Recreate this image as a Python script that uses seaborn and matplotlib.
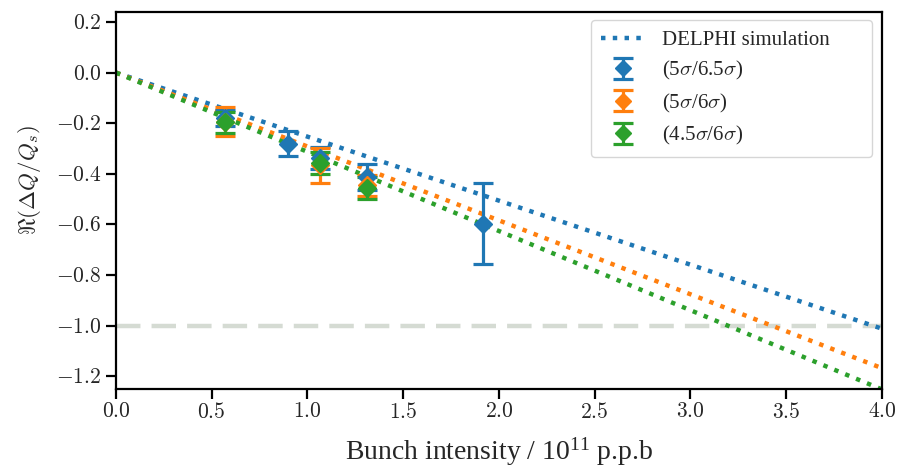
import numpy as np
import pandas as pd
import matplotlib
matplotlib.use("Agg")
import matplotlib.pyplot as plt
import matplotlib.ticker as mticker
import seaborn as sns

# ---- data ----
sim_intensity = [0.0, 4.0]
sim_blue = [0.0, -1.012]
sim_orange = [0.0, -1.168]
sim_green = [0.0, -1.252]

labels = [r"(5$\sigma$/6.5$\sigma$)", r"(5$\sigma$/6$\sigma$)", r"(4.5$\sigma$/6$\sigma$)"]

x_blue = [0.569, 0.90, 1.065, 1.309, 1.915]
y_blue = [-0.178, -0.281, -0.337, -0.412, -0.598]
e_blue = [0.032, 0.050, 0.043, 0.050, 0.160]

x_orange = [0.569, 1.065, 1.309]
y_orange = [-0.194, -0.366, -0.445]
e_orange = [0.058, 0.070, 0.042]

x_green = [0.569, 1.065, 1.309]
y_green = [-0.196, -0.357, -0.456]
e_green = [0.041, 0.043, 0.043]

threshold = -1.0

xlim = (0.0, 4.0)
ylim = (-1.25, 0.24)
xticks = [0.0, 0.5, 1.0, 1.5, 2.0, 2.5, 3.0, 3.5, 4.0]
yticks = [0.2, 0.0, -0.2, -0.4, -0.6, -0.8, -1.0, -1.2]

colors = ["#1f77b4", "#ff7f0e", "#2ca02c"]

# ---- style ----
sns.set_style("ticks")
plt.rcParams["font.family"] = ["Liberation Serif", "DejaVu Serif"]
plt.rcParams["mathtext.fontset"] = "cm"

fig = plt.figure(figsize=(8.99, 4.76), dpi=100)
ax = fig.add_axes([0.129, 0.183, 0.852, 0.792])

ax.axhline(threshold, color="#d5dbd3", lw=3.2, ls=(0, (5.5, 2.5)), zorder=1)

sim_df = pd.DataFrame({
    "x": sim_intensity * 3,
    "y": sim_blue + sim_orange + sim_green,
    "s": ["b"] * 2 + ["o"] * 2 + ["g"] * 2,
})
for key, c in zip(["b", "o", "g"], colors):
    sub = sim_df[sim_df.s == key]
    sns.lineplot(data=sub, x="x", y="y", ax=ax, color=c, lw=3.2, ls=":",
                 label="DELPHI simulation" if key == "b" else None,
                 legend=False, zorder=2)

for xs, ys, es, c, lab in zip([x_blue, x_orange, x_green],
                              [y_blue, y_orange, y_green],
                              [e_blue, e_orange, e_green], colors, labels):
    ax.errorbar(xs, ys, yerr=es, fmt="D", color=c, ms=9.5, lw=2.3,
                capsize=7, capthick=2.3, label=lab, zorder=3)

ax.set_xlim(*xlim)
ax.set_ylim(*ylim)
ax.set_xticks(xticks)
ax.set_yticks(yticks)
fmt = mticker.FuncFormatter(lambda v, p: f"${v:.1f}$")
ax.xaxis.set_major_formatter(fmt)
ax.yaxis.set_major_formatter(fmt)
ax.tick_params(labelsize=15.5, width=1.6, length=7, direction="out", color="black")
for sp in ax.spines.values():
    sp.set_linewidth(1.6)
    sp.set_color("black")

ax.set_xlabel(r"Bunch intensity / $\mathregular{10^{11}}$ p.p.b", fontsize=20, labelpad=9)
ax.set_ylabel(r"$\Re(\Delta Q/Q_s)$", fontsize=16.5)
ax.yaxis.set_label_coords(-0.095, 0.555)

h, l = ax.get_legend_handles_labels()
leg = ax.legend(h, l, loc="upper left", bbox_to_anchor=(0.620, 0.0, 0.367, 0.979),
                mode="expand", borderaxespad=0, fontsize=15, frameon=True,
                borderpad=0.5, handlelength=2.1, handletextpad=0.8,
                labelspacing=0.45, markerscale=0.85)
leg.get_frame().set_edgecolor("#cccccc")

fig.savefig("out.png", dpi=100)
